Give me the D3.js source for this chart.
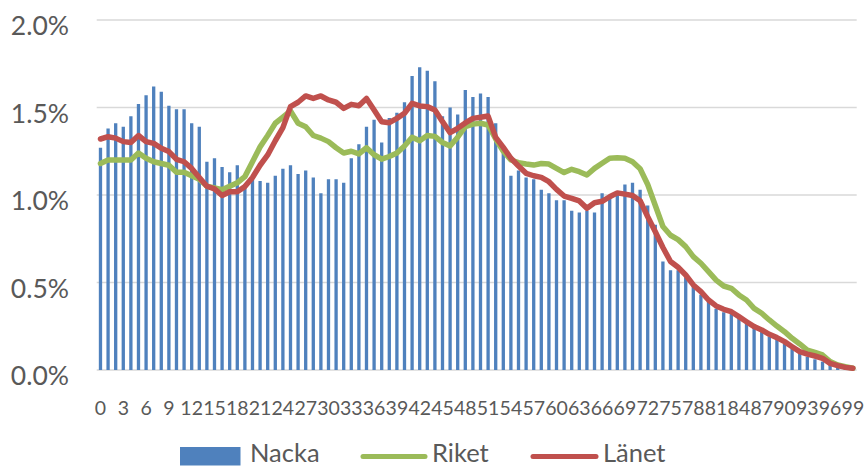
<!DOCTYPE html>
<html>
<head>
<meta charset="utf-8">
<script src="https://cdn.jsdelivr.net/npm/d3@7"></script>
<style>
  html, body { margin: 0; padding: 0; background: #fff; }
  svg { display: block; font-family: Lato, "Open Sans", sans-serif; }
</style>
</head>
<body>
<svg id="chart" width="866" height="468"></svg>
<script>
const ages = d3.range(0, 100);
const nacka = [1.27,1.38,1.41,1.39,1.45,1.52,1.57,1.62,1.59,1.51,
  1.49,1.49,1.41,1.39,1.19,1.21,1.16,1.13,1.17,1.06,
  1.10,1.08,1.07,1.11,1.15,1.17,1.12,1.14,1.10,1.01,
  1.09,1.09,1.07,1.21,1.29,1.39,1.43,1.30,1.44,1.47,
  1.53,1.68,1.73,1.71,1.65,1.45,1.50,1.46,1.60,1.56,
  1.58,1.56,1.41,1.28,1.11,1.14,1.10,1.09,1.03,1.01,
  0.97,0.97,0.91,0.90,0.91,0.90,1.01,0.99,1.01,1.06,
  1.07,1.03,0.94,0.83,0.62,0.57,0.57,0.53,0.48,0.43,
  0.39,0.35,0.33,0.32,0.30,0.27,0.24,0.23,0.19,0.175,
  0.15,0.12,0.10,0.076,0.061,0.048,0.029,0.019,0.013,0.008];
const riket = [1.18,1.20,1.20,1.20,1.20,1.24,1.21,1.19,1.18,1.17,
  1.13,1.13,1.11,1.09,1.05,1.04,1.03,1.05,1.07,1.105,
  1.19,1.275,1.34,1.41,1.445,1.48,1.41,1.39,1.34,1.325,
  1.305,1.27,1.24,1.25,1.235,1.27,1.23,1.205,1.22,1.24,
  1.28,1.33,1.31,1.34,1.335,1.30,1.28,1.33,1.39,1.405,
  1.41,1.40,1.32,1.25,1.20,1.185,1.177,1.171,1.18,1.177,
  1.152,1.128,1.147,1.133,1.114,1.152,1.181,1.21,1.213,1.21,
  1.19,1.15,1.06,0.94,0.82,0.77,0.745,0.705,0.648,0.61,
  0.562,0.514,0.48,0.467,0.429,0.40,0.352,0.324,0.286,0.251,
  0.219,0.181,0.149,0.114,0.101,0.086,0.048,0.029,0.019,0.010];
const lanet = [1.32,1.333,1.325,1.305,1.30,1.34,1.305,1.295,1.267,1.248,
  1.204,1.19,1.152,1.10,1.05,1.035,0.997,1.019,1.019,1.048,
  1.10,1.17,1.229,1.31,1.385,1.505,1.53,1.566,1.552,1.566,
  1.543,1.53,1.495,1.518,1.51,1.552,1.486,1.419,1.413,1.438,
  1.467,1.524,1.509,1.505,1.486,1.419,1.356,1.381,1.412,1.438,
  1.444,1.451,1.329,1.272,1.21,1.166,1.124,1.11,1.101,1.076,
  1.032,0.994,0.981,0.966,0.924,0.956,0.964,0.99,1.012,1.005,
  0.997,0.967,0.876,0.79,0.70,0.62,0.587,0.543,0.486,0.448,
  0.40,0.366,0.347,0.333,0.305,0.276,0.248,0.229,0.204,0.185,
  0.162,0.133,0.105,0.091,0.08,0.067,0.038,0.025,0.015,0.010];
const yTicks = [0, 0.5, 1.0, 1.5, 2.0];
const xTickLabels = d3.range(0, 100, 3);
const seriesNames = ["Nacka", "Riket", "Länet"];
const colors = { bar: "#4F81BD", riket: "#9BBB59", lanet: "#C0504D", grid: "#D9D9D9", text: "#595959" };

const svg = d3.select("#chart");
const x = d3.scaleBand().domain(ages).range([96.7, 856.7]).paddingInner(0.565).paddingOuter(0.28);
const y = d3.scaleLinear().domain([0, 2.0]).range([370, 20]);

// grid
svg.append("g").selectAll("line").data(yTicks).join("line")
  .attr("x1", 96.7).attr("x2", 856.7)
  .attr("y1", d => y(d)).attr("y2", d => y(d))
  .attr("stroke", colors.grid).attr("stroke-width", 1.5);

// y labels
svg.append("g").selectAll("text").data(yTicks).join("text")
  .attr("x", 69).attr("y", d => y(d) + 15)
  .attr("text-anchor", "end").attr("font-size", 26.5).attr("fill", colors.text)
  .text(d => d3.format(".1f")(d) + "%");

// bars
svg.append("g").selectAll("rect").data(ages).join("rect")
  .attr("x", d => x(d)).attr("width", x.bandwidth())
  .attr("y", d => y(nacka[d])).attr("height", d => y(0) - y(nacka[d]))
  .attr("fill", colors.bar);

// x labels
svg.append("g").selectAll("text").data(xTickLabels).join("text")
  .attr("x", d => x(d) + x.bandwidth() / 2).attr("y", 415)
  .attr("text-anchor", "middle").attr("font-size", 19.5).attr("fill", colors.text)
  .text(d => d);

// lines
const cx = d => x(d) + x.bandwidth() / 2;
const line = vals => d3.line().x(d => cx(d)).y(d => y(vals[d]))(ages);
svg.append("path").attr("d", line(riket)).attr("fill", "none")
  .attr("stroke", colors.riket).attr("stroke-width", 5.5).attr("stroke-linejoin", "round").attr("stroke-linecap", "round");
svg.append("path").attr("d", line(lanet)).attr("fill", "none")
  .attr("stroke", colors.lanet).attr("stroke-width", 5.5).attr("stroke-linejoin", "round").attr("stroke-linecap", "round");

// legend
const lg = svg.append("g");
lg.append("rect").attr("x", 180).attr("y", 447).attr("width", 60.5).attr("height", 18.5).attr("fill", colors.bar);
lg.append("text").attr("x", 250).attr("y", 462).attr("font-size", 25.5).attr("fill", colors.text).text(seriesNames[0]);
lg.append("line").attr("x1", 363).attr("x2", 425).attr("y1", 456.5).attr("y2", 456.5)
  .attr("stroke", colors.riket).attr("stroke-width", 5).attr("stroke-linecap", "round");
lg.append("text").attr("x", 432).attr("y", 462).attr("font-size", 25.5).attr("fill", colors.text).text(seriesNames[1]);
lg.append("line").attr("x1", 533).attr("x2", 596).attr("y1", 456.5).attr("y2", 456.5)
  .attr("stroke", colors.lanet).attr("stroke-width", 5).attr("stroke-linecap", "round");
lg.append("text").attr("x", 603).attr("y", 462).attr("font-size", 25.5).attr("fill", colors.text).text(seriesNames[2]);
</script>
</body>
</html>
